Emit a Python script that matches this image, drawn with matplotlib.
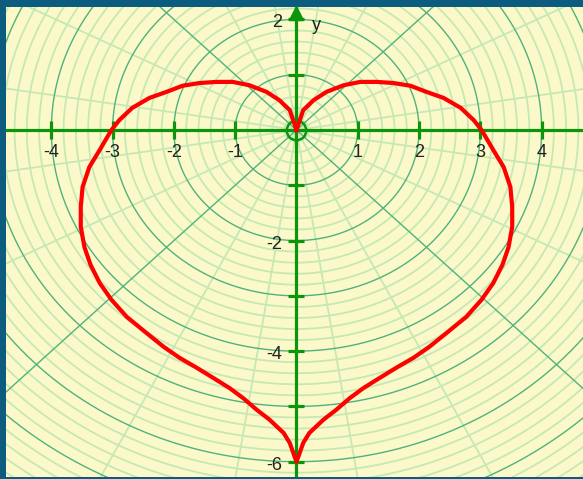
import numpy as np
import matplotlib.pyplot as plt

plt.rcParams['font.family'] = ['Liberation Sans', 'DejaVu Sans']

# moitie droite du coeur (de la pointe haute a la pointe basse)
heart_x_right = [0.00, 0.11, 0.28, 0.49, 0.77, 1.04, 1.31, 1.58, 1.86, 2.12,
                 2.40, 2.68, 2.89, 3.02, 3.21, 3.38, 3.49, 3.52, 3.52, 3.46,
                 3.36, 3.21, 3.02, 2.77, 2.45, 2.17, 1.91, 1.63, 1.35, 1.09,
                 0.87, 0.65, 0.44, 0.21, 0.11, 0.03, 0.00]
heart_y_right = [0.00, 0.36, 0.54, 0.69, 0.81, 0.87, 0.87, 0.85, 0.80, 0.69,
                 0.58, 0.40, 0.18, 0.00, -0.36, -0.67, -1.03, -1.39, -1.75, -2.12,
                 -2.44, -2.77, -3.07, -3.38, -3.67, -3.92, -4.12, -4.30, -4.49, -4.67,
                 -4.85, -5.06, -5.24, -5.48, -5.66, -5.91, -6.00]

x_ticks = [-4, -3, -2, -1, 1, 2, 3, 4]
x_tick_labels = ['-4', '-3', '-2', '-1', '1', '2', '3', '4']
y_ticks = [2, 1, -1, -2, -3, -4, -5, -6]
y_label_ticks = [2, -2, -4, -6]
y_tick_labels = ['2', '-2', '-4', '-6']

BG = '#fbf9c9'
BORDER = '#0b5c7e'
LIGHT = '#c6e8b4'
DARK = '#4fb27c'
AXIS = '#0a950a'

fig = plt.figure(figsize=(5.83, 4.79), dpi=100, facecolor=BORDER)
ax = fig.add_axes([6 / 583, 2 / 479, 577 / 583, 470 / 479])
ax.set_facecolor(BG)
ax.set_xlim(-4.74, 4.675)
ax.set_ylim(-6.277, 2.225)
for s in ax.spines.values():
    s.set_visible(False)
ax.set_xticks([])
ax.set_yticks([])

# grille polaire : cercles tous les 0.2, plus fonces aux entiers
t = np.linspace(0, 2 * np.pi, 500)
for k in range(1, 41):
    r = k * 0.2
    dark = k % 5 == 0
    ax.plot(r * np.cos(t), r * np.sin(t), color=DARK if dark else LIGHT,
            lw=1.0 if dark else 1.3, zorder=2 if dark else 1)

# rayons tous les 18 degres (decales de 9), plus fonces a 45
for a in range(9, 360, 18):
    dark = a % 90 == 45
    ar = np.radians(a)
    ax.plot([0, 9 * np.cos(ar)], [0, 9 * np.sin(ar)], color=DARK if dark else LIGHT,
            lw=1.0 if dark else 1.3, zorder=2 if dark else 1)

# axes
ax.axhline(0, color=AXIS, lw=2.3, zorder=3)
ax.axvline(0, color=AXIS, lw=2.3, zorder=3)
ax.plot([0], [2.11], marker='^', ms=10, color=AXIS, zorder=3, clip_on=False)
ax.plot([0], [0], marker='o', ms=14, mfc='none', mec=AXIS, mew=1.8, zorder=3)

ax.plot(x_ticks, [0] * len(x_ticks), ls='none', marker='|', ms=13, mew=2.3,
        color=AXIS, zorder=3)
ax.plot([0] * len(y_ticks), y_ticks, ls='none', marker='_', ms=12, mew=2.3,
        color=AXIS, zorder=3)

for x, lab in zip(x_ticks, x_tick_labels):
    ax.annotate(lab, (x, 0), xytext=(0, -16), textcoords='offset points',
                ha='center', va='center', fontsize=13, color='#222222')
for y, lab in zip(y_label_ticks, y_tick_labels):
    ax.annotate(lab, (0, y), xytext=(-10, -2.5), textcoords='offset points',
                ha='right', va='center', fontsize=13, color='#222222')
ax.annotate('y', (0, 2.225), xytext=(14, -13), textcoords='offset points',
            ha='center', va='center', fontsize=13, color='#222222')

# le coeur
hx = heart_x_right + [-v for v in heart_x_right[::-1]]
hy = heart_y_right + heart_y_right[::-1]
ax.plot(hx, hy, color='#ff0000', lw=3, zorder=5, solid_joinstyle='round')

fig.savefig('out.png', dpi=100, facecolor=BORDER)
